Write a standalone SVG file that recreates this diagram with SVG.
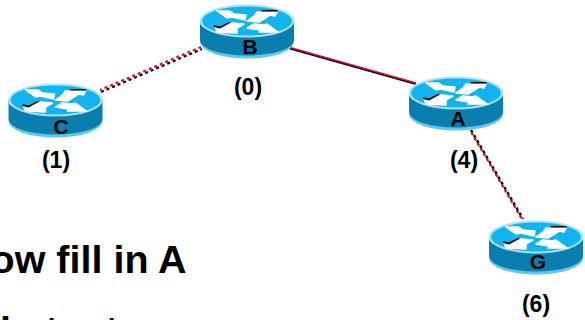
<svg xmlns="http://www.w3.org/2000/svg" width="585" height="320" viewBox="0 0 585 320">
<style>
text{font-family:"Liberation Sans",Arial,sans-serif;font-weight:700;fill:#000}
.l{font-size:21px;text-anchor:middle}
.n{font-size:23px;text-anchor:middle}
.b{font-size:39.5px}
.w{fill:#fff;stroke:#fff;stroke-width:1.500;stroke-linejoin:round}
</style>
<defs>
<g id="router">
<ellipse cx="0" cy="21" rx="47" ry="16.500" fill="#5cc8ee"/>
<path d="M-47 0V19A47 15.500 0 0 0 47 19V0Z" fill="#0a7fae"/>
<ellipse cx="0" cy="0" rx="47.500" ry="16.500" fill="#a5e4f8"/>
<ellipse cx="0" cy="0" rx="45" ry="14.500" fill="#12b4f0"/>
<path class="w" d="M-30-10-18-10-13-7-1-6-2-1-15-4-20-3Z"/>
<path class="w" d="M10-9 30-9 28-5 23-6 12 1 0 0 7-5Z"/>
<path class="w" d="M-32 6-27 7-15 2-3 3-10 7-10 12-30 11Z"/>
<path class="w" d="M0 7 7 3 17 4 20 3 31 11 12 11 13 9Z"/>
<path d="M14-11 31-11 30-9.500 15-9.500Z M-33 4-27 5.500-18 1-16 1.500-27 7.500-33 6Z" fill="#000"/>
</g>
</defs>
<g id="connectors" fill="none">
<path d="M101 92 202 49" stroke="#000" stroke-width="2.200" stroke-dasharray="3 3"/>
<path d="M100 90 201 47" stroke="#d0103a" stroke-width="2.200" stroke-dasharray="3 3" stroke-dashoffset="1"/>
<path d="M290 48.500 416 84" stroke="#000" stroke-width="2"/>
<path d="M290 47.500 416 83" stroke="#d0103a" stroke-width="1.600"/>
<path d="M471 130 523 219" stroke="#000" stroke-width="2.400" stroke-dasharray="3 3"/>
<path d="M470 130 522 219" stroke="#d0103a" stroke-width="2.400" stroke-dasharray="3 3" stroke-dashoffset="3"/>
</g>
<g id="node-C"><use href="#router" x="55.500" y="100"/><text class="l" x="61" y="134">C</text><text class="n" x="56" y="168">(1)</text></g>
<g id="node-B"><use href="#router" x="247" y="21"/><text class="l" x="250" y="54">B</text><text class="n" x="248" y="95">(0)</text></g>
<g id="node-A"><use href="#router" x="456" y="93"/><text class="l" x="458" y="126">A</text><text class="n" x="464" y="168">(4)</text></g>
<g id="node-G"><use href="#router" x="536" y="237"/><text class="l" x="538" y="269">G</text><text class="n" x="536" y="312">(6)</text></g>
<text class="b" x="-38" y="273">Now fill in A</text>
<text class="b" y="344"><tspan x="0">i</tspan><tspan x="45">t</tspan><tspan x="105">t</tspan></text>
</svg>
